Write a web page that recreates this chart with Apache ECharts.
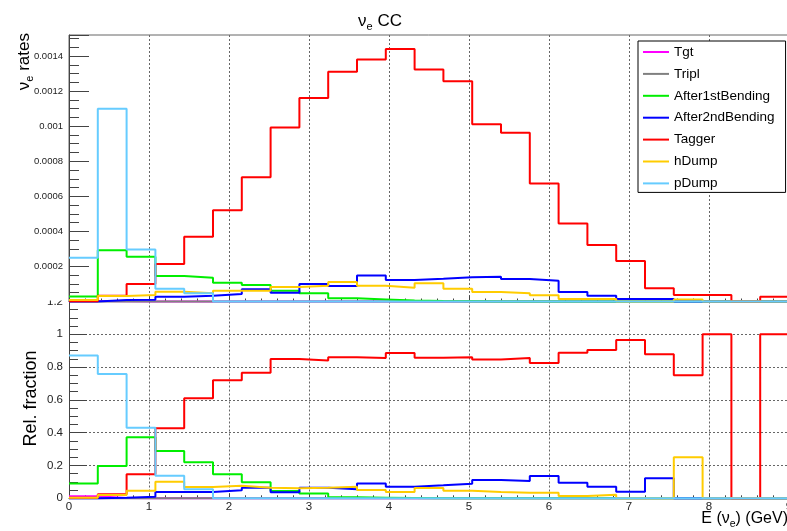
<!DOCTYPE html>
<html><head><meta charset="utf-8">
<script src="https://cdn.jsdelivr.net/npm/echarts@6/dist/echarts.min.js"></script>
<style>html,body{margin:0;padding:0;background:#fff}#c{width:787px;height:531px}</style>
</head><body><div id="c"></div>
<script>
// ---- data ----
const seriesNames = ['Tgt','Tripl','After1stBending','After2ndBending','Tagger','hDump','pDump'];
const seriesColors = ['#ff00ff','#808080','#00ee00','#0000ff','#ff0000','#ffcc00','#66ccff'];
const xMin = 0, xMax = 9, nBins = 25;
const xTickLabels = ['0','1','2','3','4','5','6','7','8','9'];
const rateTickLabels = ['0.0002','0.0004','0.0006','0.0008','0.001','0.0012','0.0014'];
const fracTickLabels = ['0','0.2','0.4','0.6','0.8','1','1.2'];

// nu_e CC rates per bin (upper pad)
const ratesTgt    = [0.000003,0.000001,0,0,0,0,0,0,0,0,0,0,0,0,0,0,0,0,0,0,0,0,0,0,0];
const ratesTripl  = [0,0,0,0,0,0,0,0,0,0,0,0,0,0,0,0,0,0,0,0,0,0,0,0,0];
const ratesAfter1 = [0.000028,0.000293,0.000255,0.000145,0.000136,0.000107,0.000094,0.000062,0.000047,0.000018,0.000012,0.000005,0.000003,0.000002,0,0,0,0,0,0,0,0,0,0,0];
const ratesAfter2 = [0,0.000008,0.00001,0.000027,0.000033,0.000043,0.00007,0.00005,0.0001,0.000088,0.000149,0.000123,0.00013,0.000138,0.000141,0.000128,0.000119,0.000054,0.000033,0.000014,0.000014,0,0,0,0];
const ratesTagger = [0.000002,0.000033,0.0001,0.000214,0.00037,0.00052,0.000708,0.000993,0.00116,0.00131,0.00138,0.00144,0.001323,0.001256,0.001011,0.000962,0.000673,0.000445,0.000322,0.000231,0.000075,0.000037,0.000037,0,0.000027];
const ratesHDump  = [0.000008,0.000031,0.000037,0.000056,0.000047,0.000062,0.000062,0.000083,0.00009,0.000111,0.00009,0.000079,0.000104,0.000073,0.000054,0.000047,0.000035,0.000014,0.000014,0,0,0.000012,0,0,0];
const ratesPDump  = [0.00025,0.0011,0.000297,0.000073,0.000047,0,0,0,0,0,0,0,0,0,0,0,0,0,0,0,0,0,0,0,0];

// relative fraction per bin (lower pad)
const fracTgt    = [0.012,0.002,0,0,0,0,0,0,0,0,0,0,0,0,0,0,0,0,0,0,0,0,0,0,0];
const fracTripl  = [0,0,0,0,0,0,0,0,0,0,0,0,0,0,0,0,0,0,0,0,0,0,0,0,0];
const fracAfter1 = [0.09,0.197,0.372,0.288,0.22,0.146,0.098,0.045,0.03,0.006,0.004,0.002,0,0,0,0,0,0,0,0,0,0,0,0,0];
const fracAfter2 = [0,0.004,0.01,0.039,0.039,0.049,0.065,0.037,0.065,0.055,0.091,0.071,0.079,0.089,0.112,0.105,0.136,0.095,0.071,0.04,0.122,0,0,0,0];
const fracTagger = [0.004,0.024,0.146,0.427,0.61,0.72,0.766,0.85,0.84,0.86,0.855,0.886,0.857,0.86,0.847,0.855,0.825,0.888,0.904,0.965,0.878,0.75,1.0,0,1.0];
const fracHDump  = [0.003,0.02,0.046,0.101,0.069,0.077,0.065,0.061,0.065,0.071,0.051,0.038,0.063,0.046,0.038,0.034,0.034,0.014,0.022,0,0,0.25,0,0,0];
const fracPDump  = [0.87,0.758,0.43,0.138,0.055,0,0,0,0,0,0,0,0,0,0,0,0,0,0,0,0,0,0,0,0];

const ratesAll = [ratesTgt,ratesTripl,ratesAfter1,ratesAfter2,ratesTagger,ratesHDump,ratesPDump];
const fracAll  = [fracTgt,fracTripl,fracAfter1,fracAfter2,fracTagger,fracHDump,fracPDump];

// ---- chart ----
const FONT = "'Liberation Sans', Arial, Helvetica, sans-serif";
const AX = '#444';
function histPoints(vals){
  const w = (xMax - xMin) / nBins;
  const pts = vals.map((v,i)=>[xMin + i*w, v]);
  pts.push([xMax, vals[vals.length-1]]);
  return pts;
}
const series = [];
[ratesAll, fracAll].forEach((set, gi)=>{
  set.forEach((vals, i)=>{
    series.push({
      type:'line', name: seriesNames[i], xAxisIndex: gi, yAxisIndex: gi,
      data: histPoints(vals), step:'end', symbol:'none', showSymbol:false, clip:false,
      lineStyle:{color: seriesColors[i], width:2}, itemStyle:{color: seriesColors[i]},
      emphasis:{disabled:true}, silent:true
    });
  });
});
const grid = [
  {left:69, top:35, width:720, height:266.5, show:true, borderColor:'#666', borderWidth:1,
   backgroundColor:'transparent', outerBoundsMode:'none', containLabel:false},
  {left:69, top:301.5, width:720, height:196.8, show:false, outerBoundsMode:'none', containLabel:false}
];
const splitDot = {show:true, lineStyle:{color:'#666', type:[2,2], width:1}};
const xAxis = [
  {gridIndex:0, type:'value', min:xMin, max:xMax, interval:1,
   axisLine:{show:true, onZero:false, lineStyle:{color:AX}},
   axisTick:{show:true, inside:true, length:6, lineStyle:{color:AX}},
   minorTick:{show:true, splitNumber:5, length:3, lineStyle:{color:AX}},
   axisLabel:{show:false}, splitLine:splitDot},
  {gridIndex:1, type:'value', min:xMin, max:xMax, interval:1,
   axisLine:{show:true, onZero:false, lineStyle:{color:AX}},
   axisTick:{show:true, inside:true, length:5, lineStyle:{color:AX}},
   minorTick:{show:true, splitNumber:5, length:3, lineStyle:{color:AX}},
   axisLabel:{show:true, margin:3, fontSize:11.5, color:'#222', fontFamily:FONT,
     formatter:(v)=>xTickLabels[Math.round(v)]},
   splitLine:splitDot}
];
const yAxis = [
  {gridIndex:0, type:'value', min:0, max:0.00152, interval:0.0002,
   axisLine:{show:true, onZero:false, lineStyle:{color:AX}},
   axisTick:{show:true, inside:true, length:20, lineStyle:{color:AX}},
   minorTick:{show:true, splitNumber:4, length:10, lineStyle:{color:AX}},
   axisLabel:{show:true, margin:6, fontSize:9.5, color:'#222', fontFamily:FONT,
     showMinLabel:false, showMaxLabel:false,
     formatter:(v)=>{const k=Math.round(v/0.0002); return (k>=1&&k<=rateTickLabels.length)?rateTickLabels[k-1]:'';}},
   splitLine:{show:false}},
  {gridIndex:1, type:'value', min:0, max:1.2, interval:0.2,
   axisLine:{show:true, onZero:false, lineStyle:{color:AX}},
   axisTick:{show:true, inside:true, length:18, lineStyle:{color:AX}},
   minorTick:{show:true, splitNumber:4, length:9, lineStyle:{color:AX}},
   axisLabel:{show:true, margin:6, fontSize:11.5, color:'#222', fontFamily:FONT,
     formatter:(v)=>fracTickLabels[Math.round(v/0.2)]},
   splitLine:splitDot}
];
const chart = echarts.init(document.getElementById('c'), null, {renderer:'canvas'});
chart.setOption({
  animation:false,
  backgroundColor:'#fff',
  grid, xAxis, yAxis, series,
  legend:{
    data: seriesNames, orient:'vertical', left:638, top:41, padding:[4,11,2,5],
    icon:'rect', itemWidth:26, itemHeight:2, itemGap:7.9,
    backgroundColor:'#fff', borderColor:'#000', borderWidth:1, borderRadius:0,
    textStyle:{fontSize:13.5, lineHeight:14, color:'#000', fontFamily:FONT},
    selectedMode:false, z:10
  },
  graphic:[
    {type:'rect', z:100, shape:{x:28, y:288, width:39, height:12.5}, style:{fill:'#fff'}},
    {type:'text', z:100, x:380, y:21, style:{
      text:'{n|ν}{s|e}{n| CC}', align:'center', verticalAlign:'middle', fill:'#000',
      rich:{n:{fontSize:17, lineHeight:22, fontFamily:FONT, fill:'#000'},
            s:{fontSize:11, lineHeight:10, verticalAlign:'bottom', fontFamily:FONT, fill:'#000'}}}},
    {type:'text', z:100, x:24, y:33, rotation:Math.PI/2, style:{
      text:'{n|ν}{s|e}{n| rates}', align:'right', verticalAlign:'middle', fill:'#000',
      rich:{n:{fontSize:17, lineHeight:22, fontFamily:FONT, fill:'#000'},
            s:{fontSize:11, lineHeight:10, verticalAlign:'bottom', fontFamily:FONT, fill:'#000'}}}},
    {type:'text', z:100, x:31, y:398.5, rotation:Math.PI/2, style:{
      text:'Rel. fraction', align:'center', verticalAlign:'middle', fill:'#000',
      font:'18px ' + FONT}},
    {type:'text', z:100, x:788, y:519, style:{
      text:'{n|E (ν}{s|e}{n|) (GeV)}', align:'right', verticalAlign:'middle', fill:'#000',
      rich:{n:{fontSize:16, lineHeight:22, fontFamily:FONT, fill:'#000'},
            s:{fontSize:10.5, lineHeight:10, verticalAlign:'bottom', fontFamily:FONT, fill:'#000'}}}}
  ]
});
</script></body></html>
